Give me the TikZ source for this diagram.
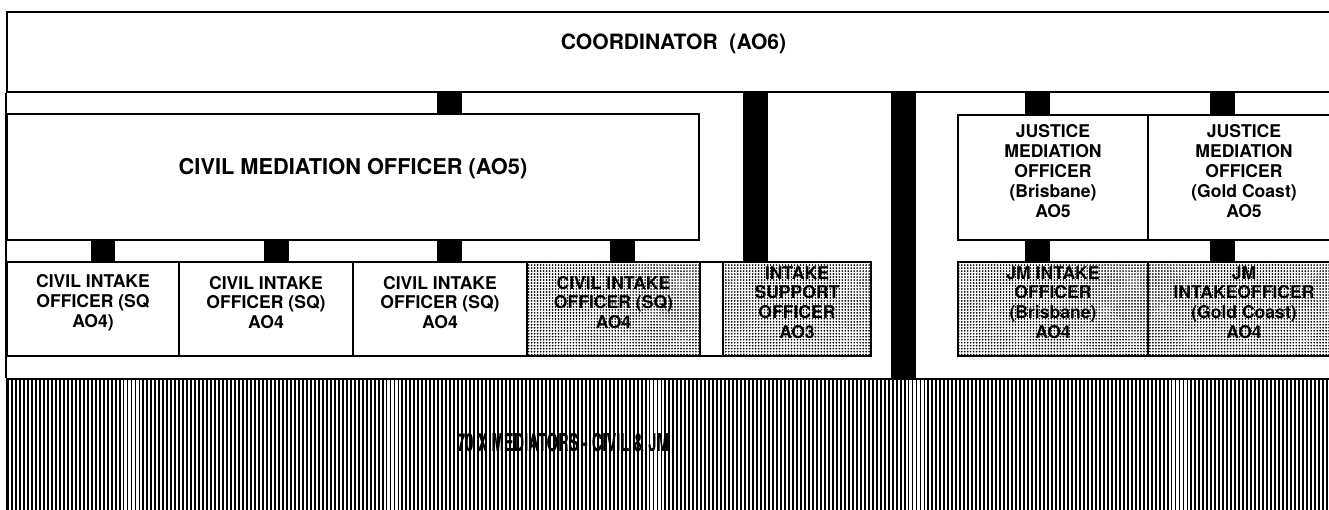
\documentclass[tikz,border=0pt]{standalone}
\usepackage{fontspec}
\setmainfont{TeX Gyre Heros}
\usetikzlibrary{fit,patterns.meta}

\begin{document}
\begin{tikzpicture}[
    x=0.02cm, y=-0.02cm,
    frame/.style={black, line width=1.1pt},
    posbox/.style={draw=black, line width=1.1pt, inner sep=0pt, align=center,
        font=\bfseries\fontsize{10}{11.3}\selectfont},
    dotbox/.style={posbox, pattern={Dots[radius=0.55pt, distance=1.7pt]}},
    linebox/.style={posbox, pattern={Lines[angle=90, distance=2.268pt, line width=1.1pt]}},
    link/.style={black, line width=0.5cm},
    headlabel/.style={font=\bfseries\fontsize{12}{14}\selectfont},
]

\useasboundingbox (0,0) rectangle (1329,510);

% ── Top two levels ──────────────────────────────────────────
\node[posbox, headlabel, fit={(7,12) (1340,92)}] (coord) {COORDINATOR\ \ (AO6)};
\node[posbox, font=\bfseries\fontsize{12.4}{14}\selectfont,
      fit={(7,114) (699,240)}] (cmo) {CIVIL MEDIATION OFFICER (AO5)};

\node[posbox, fit={(958,115) (1148,240)}] (jmb)
    {JUSTICE\\MEDIATION\\OFFICER\\(Brisbane)\\AO5};
\node[posbox, fit={(1148,115) (1340,240)}] (jmg)
    {JUSTICE\\MEDIATION\\OFFICER\\(Gold Coast)\\AO5};

% ── Intake row ──────────────────────────────────────────────
\node[posbox, fit={(7,262) (179,356)}]   (ci1) {CIVIL INTAKE\\OFFICER (SQ\\AO4)};
\node[posbox, fit={(179,262) (353,356)}] (ci2) {CIVIL INTAKE\\OFFICER (SQ)\\AO4};
\node[posbox, fit={(353,262) (527,356)}] (ci3) {CIVIL INTAKE\\OFFICER (SQ)\\AO4};
\node[dotbox, fit={(527,262) (700,356)}] (ci4) {CIVIL INTAKE\\OFFICER (SQ)\\AO4};
\node[posbox, fit={(700,262) (723,356)}] (slot) {};
\node[dotbox, fit={(723,262) (871,356)}] (isup) {INTAKE\\SUPPORT\\OFFICER\\AO3};

\node[dotbox, fit={(958,262) (1148,356)}]  (jib) {JM INTAKE\\OFFICER\\(Brisbane)\\AO4};
\node[dotbox, fit={(1148,262) (1340,356)}] (jig) {JM\\INTAKEOFFICER\\(Gold Coast)\\AO4};

% ── Mediators pool ──────────────────────────────────────────
\node[linebox, fit={(7,379) (1340,520)}] (med) {};
\node[font=\bfseries\fontsize{14}{16}\selectfont] (medtext) at (563,443)
    {\scalebox{0.6}[1]{70 X MEDIATORS - CIVIL \& JM}};

% left edge runs through the gaps
\draw[frame] (coord.south west) -- (med.north west);

% ── Links ───────────────────────────────────────────────────
\foreach \n/\x in {la/103, lb/276, lc/449, ld/622, le/755, lf/903, lg/1037, lh/1222}
    \coordinate (\n) at (\x,0);

\draw[link] (coord.south -| lc) -- (cmo.north -| lc);
\foreach \l/\b in {la/ci1, lb/ci2, lc/ci3, ld/ci4}
    \draw[link] (cmo.south -| \l) -- (\b.north -| \l);

\draw[link] (coord.south -| le) -- (isup.north -| le);
\draw[link] (coord.south -| lf) -- (med.north -| lf);

\draw[link] (coord.south -| lg) -- (jmb.north -| lg);
\draw[link] (jmb.south -| lg) -- (jib.north -| lg);
\draw[link] (coord.south -| lh) -- (jmg.north -| lh);
\draw[link] (jmg.south -| lh) -- (jig.north -| lh);

\end{tikzpicture}
\end{document}
